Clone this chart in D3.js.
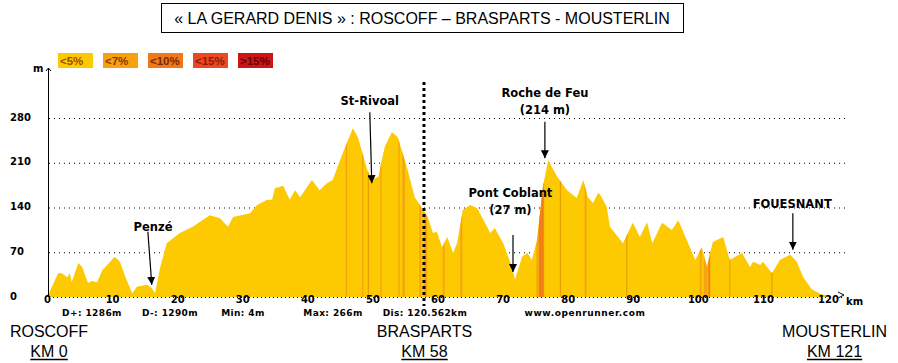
<!DOCTYPE html>
<html>
<head>
<meta charset="utf-8">
<script src="https://cdn.jsdelivr.net/npm/d3@7"></script>
<style>
  body { margin: 0; background: #fff; }
  svg { display: block; }
  .tick text { font-family: "DejaVu Sans", sans-serif; font-weight: bold; font-size: 10px; fill: #000; }
</style>
</head>
<body>
<div id="theChart"></div>
<script>
// profile: distance (km) and elevation (m)
const kms = [0, 0.3, 1.7, 2.3, 3.1, 3.5, 3.8, 4.8, 5.4, 6.3, 6.9, 7.7, 8.5, 9.7, 10.4, 11.2, 12.1, 13.1, 13.8, 15.4, 16.1, 16.6,
  17.4, 18.4, 20.4, 22.4, 25.0, 26.6, 27.8, 28.6, 31.2, 32.3, 33.8, 34.6, 35.0, 36.3, 37.3, 38.1, 38.9, 40.7, 41.9, 43.0,
  43.9, 45.5, 47.0, 47.8, 49.2, 49.9, 50.9, 51.9, 53.0, 53.9, 55.3, 56.5, 57.8, 58.5, 59.3, 59.9, 60.7, 61.5, 62.4, 63.0,
  63.9, 65.0, 66.1, 67.3, 68.1, 68.8, 70.1, 71.5, 71.9, 73.0, 73.8, 74.5, 75.3, 76.2, 77.0, 78.4, 79.9, 81.4, 82.4, 83.1,
  83.9, 84.7, 85.0, 86.0, 86.5, 88.5, 90.0, 91.1, 92.2, 93.0, 94.5, 96.0, 97.0, 98.3, 99.6, 100.6, 101.4, 102.3, 103.9,
  104.6, 104.9, 106.8, 108.0, 108.5, 109.6, 110.0, 111.4, 112.6, 114.2, 115.2, 116.2, 117.5, 118.8, 119.9, 120.5]
const elevations = [4, 6, 37, 37, 31, 37, 23, 53, 47, 22, 25, 23, 42, 55, 63, 55, 30, 6, 16, 19, 14, 6,
  47, 84, 100, 110, 128, 123, 110, 125, 131, 144, 152, 152, 170, 174, 152, 167, 156, 183, 167, 178,
  183, 227, 264, 249, 199, 183, 188, 235, 258, 250, 203, 156, 136, 125, 100, 102, 78, 94, 69, 84,
  136, 144, 139, 116, 100, 108, 84, 45, 27, 63, 69, 58, 89, 172, 214, 188, 167, 155, 183, 156,
  147, 163, 160, 141, 110, 84, 116, 94, 117, 84, 116, 105, 120, 89, 58, 78, 47, 86, 94,
  69, 58, 69, 47, 55, 50, 55, 37, 58, 66, 55, 31, 12, 5, 2, 0]

// steep sections: start km, end km, grade class index
const steepStart = [45.9, 48.4, 49.3, 51.2, 54.0, 54.6, 57.2, 58.0, 60.8, 63.5, 75.2, 75.6, 76.0, 78.8, 82.6, 89.0, 100.3, 100.9, 101.6, 104.8, 111.3]
const steepEnd   = [46.1, 48.6, 49.4, 51.4, 54.2, 55.0, 57.5, 58.4, 61.1, 63.8, 76.4, 76.0, 76.3, 79.0, 82.9, 89.2, 100.6, 101.5, 101.9, 105.0, 111.5]
const steepGrade = [1, 1, 0, 1, 1, 1, 1, 1, 1, 1, 1, 2, 2, 0, 1, 0, 1, 1, 2, 1, 0]

const gradeLabels = ["<5%", "<7%", "<10%", "<15%", ">15%"]
const gradeColors = ["#fdc900", "#f5a110", "#f07818", "#ea4a22", "#cc1515"]
const gradeText = ["#a04a00", "#8a3a00", "#7a2800", "#8a1a08", "#600000"]

const xTicks = [0, 10, 20, 30, 40, 50, 60, 70, 80, 90, 100, 110, 120]
const yTicks = [0, 70, 140, 210, 280]

const stages = ["ROSCOFF", "BRASPARTS", "MOUSTERLIN"]
const stageKm = [0, 58, 121]

// arrow tip (km, ele), arrow tail (km, ele), label baseline (km, ele)
const notes = [
  { lines: ["Penzé"], km: 16.1, ele: 19, tailKm: 15.5, tailEle: 102, labelKm: 16.3, labelEle: 103 },
  { lines: ["St-Rivoal"], km: 49.9, ele: 178, tailKm: 49.6, tailEle: 289, labelKm: 49.6, labelEle: 300 },
  { lines: ["Roche de Feu", "(214 m)"], km: 76.5, ele: 217, tailKm: 76.5, tailEle: 274, labelKm: 76.5, labelEle: 286 },
  { lines: ["Pont Coblant", "(27 m)"], km: 71.6, ele: 39, tailKm: 71.6, tailEle: 97, labelKm: 71.2, labelEle: 130 },
  { lines: ["FOUESNANT"], km: 114.6, ele: 74, tailKm: 114.6, tailEle: 131, labelKm: 114.5, labelEle: 139 },
]

const stats = ["D+: 1286m", "D-: 1290m", "Min: 4m", "Max: 266m", "Dis: 120.562km", "www.openrunner.com"]

const w = 898
const h = 363
const statX = [92, 170, 243, 333, 425, 585]

const svg = d3.select("#theChart").append("svg").attr("width", w).attr("height", h)

const x = d3.scaleLinear().domain([0, 120]).range([47, 828])
const y = d3.scaleLinear().domain([0, 280]).range([297, 118])
const data = kms.map((k, i) => ({ km: k, ele: elevations[i] }))

// title
svg.append("rect").attr("x", 161.5).attr("y", 3.5).attr("width", 522).attr("height", 29)
  .attr("fill", "#fff").attr("stroke", "#000")
svg.append("text").attr("x", 422).attr("y", 24).attr("text-anchor", "middle")
  .style("font-family", "Liberation Sans, Arial").style("font-size", "16px")
  .text("« LA GERARD DENIS » : ROSCOFF – BRASPARTS - MOUSTERLIN")

// legend
const leg = svg.append("g").selectAll("g").data(gradeLabels).enter().append("g")
  .attr("transform", (d, i) => `translate(${58 + i * 45}, 53)`)
leg.append("rect").attr("width", 35).attr("height", 15).attr("fill", (d, i) => gradeColors[i])
leg.append("text").attr("x", 2).attr("y", 12)
  .style("font-family", "Liberation Sans, Arial").style("font-size", "11.5px").style("font-weight", "bold")
  .attr("fill", (d, i) => gradeText[i]).text(d => d)

// gridlines
const grid = svg.append("g").attr("transform", "translate(49,0)")
  .call(d3.axisRight(y).tickValues(yTicks.slice(1)).tickSize(798).tickFormat(""))
grid.select(".domain").remove()
grid.selectAll("line").attr("stroke", "#000").attr("stroke-dasharray", "1,4")

// x baseline dotted (visible past the profile end)
svg.append("line").attr("x1", 49).attr("x2", 843).attr("y1", 297.5).attr("y2", 297.5)
  .attr("stroke", "#000").attr("stroke-dasharray", "1,3")
svg.append("path").attr("d", "M838,292 L844,295 L838,298").attr("fill", "none").attr("stroke", "#000")

// profile area
const area = d3.area().x(d => x(d.km)).y0(y(0)).y1(d => y(d.ele))
svg.append("clipPath").attr("id", "clipProfile").append("path").attr("d", area(data))
svg.append("path").attr("d", area(data)).attr("fill", gradeColors[0])

svg.append("g").attr("clip-path", "url(#clipProfile)")
  .selectAll("rect").data(steepStart).enter().append("rect")
  .attr("x", d => x(d))
  .attr("width", (d, i) => Math.max(1, x(steepEnd[i]) - x(d)))
  .attr("y", y(280)).attr("height", y(0) - y(280))
  .attr("fill", (d, i) => gradeColors[steepGrade[i]])
  .attr("opacity", (d, i) => steepGrade[i] === 0 ? 0.6 : 0.9)
svg.selectAll(".darkline").data(steepStart.filter((d, i) => steepGrade[i] === 0)).enter()
  .append("rect").attr("clip-path", "url(#clipProfile)")
  .attr("x", d => x(d)).attr("width", 1).attr("y", y(280)).attr("height", y(0) - y(280))
  .attr("fill", "#e09a00")

// y axis
svg.append("line").attr("x1", 48.5).attr("x2", 48.5).attr("y1", 68).attr("y2", 297).attr("stroke", "#000")
svg.append("path").attr("d", "M46,71 L48.5,68 L51,71").attr("fill", "none").attr("stroke", "#000")
svg.append("text").attr("x", 33).attr("y", 72)
  .style("font-family", "DejaVu Sans").style("font-weight", "bold").style("font-size", "10px").text("m")
const yAx = svg.append("g").attr("transform", "translate(48,0)")
  .call(d3.axisLeft(y).tickValues(yTicks).tickSize(0).tickFormat(d => d))
yAx.select(".domain").remove()
yAx.selectAll("text").attr("text-anchor", "start").attr("x", -38).attr("dy", "0.2em")

// x axis
const xAx = svg.append("g").attr("transform", "translate(0,297)")
  .call(d3.axisBottom(x).tickValues(xTicks).tickSize(0).tickPadding(-1).tickFormat(d => d))
xAx.select(".domain").remove()
svg.append("text").attr("x", 846).attr("y", 305)
  .style("font-family", "DejaVu Sans").style("font-weight", "bold").style("font-size", "10px").text("km")

// stage marker at Brasparts
svg.append("line").attr("x1", x(stageKm[1]) - 0.5).attr("x2", x(stageKm[1]) - 0.5)
  .attr("y1", 82).attr("y2", 306).attr("stroke", "#000").attr("stroke-width", 3).attr("stroke-dasharray", "3,3")

// annotations
svg.append("defs").append("marker").attr("id", "arrowHead")
  .attr("viewBox", "0 0 10 10").attr("refX", 10).attr("refY", 5)
  .attr("markerWidth", 8).attr("markerHeight", 8).attr("markerUnits", "userSpaceOnUse").attr("orient", "auto")
  .append("path").attr("d", "M0,0 L10,5 L0,10 Z").attr("fill", "#000")

notes.forEach(n => {
  svg.append("line").attr("x1", x(n.tailKm)).attr("y1", y(n.tailEle)).attr("x2", x(n.km)).attr("y2", y(n.ele))
    .attr("stroke", "#000").attr("stroke-width", 1.2).attr("marker-end", "url(#arrowHead)")
  n.lines.forEach((t, i) => {
    svg.append("text").attr("x", x(n.labelKm)).attr("y", y(n.labelEle) - (n.lines.length - 1 - i) * 17)
      .attr("text-anchor", "middle")
      .style("font-family", "DejaVu Sans").style("font-weight", "bold").style("font-size", "11.5px")
      .text(t)
  })
})

// stats line
svg.selectAll(".stat").data(stats).enter().append("text")
  .attr("x", (d, i) => statX[i]).attr("y", 316).attr("text-anchor", "middle")
  .style("font-family", "DejaVu Sans").style("font-weight", "bold").style("font-size", "9px")
  .style("letter-spacing", (d, i) => i === 5 ? "0.6px" : "0.4px").text(d => d)

// stage labels
stages.forEach((s, i) => {
  const cx = x(stageKm[i]) + (i === 0 ? 2 : 0)
  svg.append("text").attr("x", cx).attr("y", 337).attr("text-anchor", "middle")
    .style("font-family", "Liberation Sans, Arial").style("font-size", "16px").text(s)
  const t = svg.append("text").attr("x", cx).attr("y", 357).attr("text-anchor", "middle")
    .style("font-family", "Liberation Sans, Arial").style("font-size", "16px").text("KM " + stageKm[i])
  const bb = t.node().getBBox()
  svg.append("line").attr("x1", bb.x).attr("x2", bb.x + bb.width).attr("y1", 359.5).attr("y2", 359.5)
    .attr("stroke", "#000").attr("stroke-width", 1.3)
})
</script>
</body>
</html>
